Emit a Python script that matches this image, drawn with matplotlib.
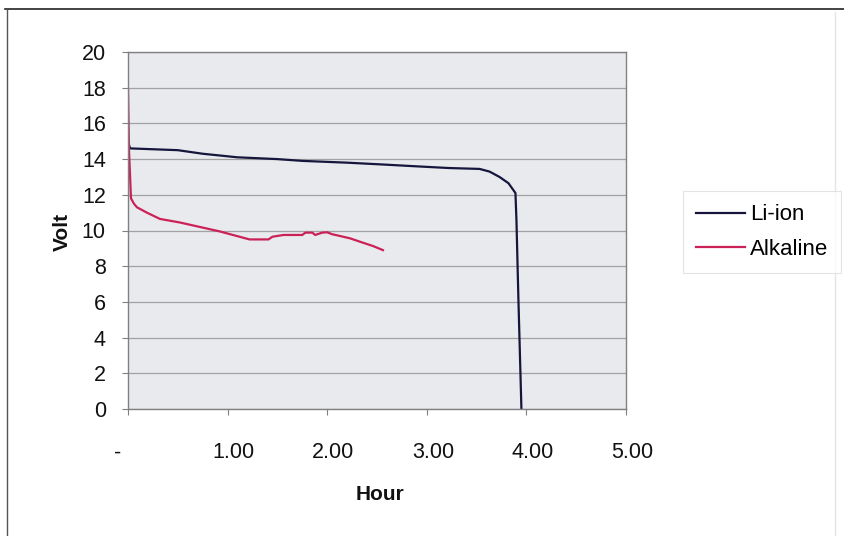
import matplotlib
matplotlib.use("Agg")
import matplotlib.pyplot as plt
import matplotlib.transforms as mtransforms
from matplotlib.lines import Line2D

plt.rcParams['font.family'] = ['Liberation Sans', 'DejaVu Sans']

# ---- data ----
liion_hours = [0.00, 0.02, 0.50, 0.75, 1.10, 1.50, 1.75, 2.20, 2.55, 2.88, 3.22, 3.53,
               3.63, 3.73, 3.82, 3.89, 3.90, 3.92, 3.95]
liion_volts = [15.0, 14.6, 14.5, 14.3, 14.1, 14.0, 13.9, 13.8, 13.7, 13.6, 13.5, 13.45,
               13.3, 13.0, 12.65, 12.1, 10.6, 6.1, 0.0]

alk_hours = [0.00, 0.01, 0.03, 0.06, 0.09, 0.19, 0.32, 0.52, 0.72, 0.92, 1.12, 1.22,
             1.41, 1.45, 1.56, 1.75, 1.78, 1.85, 1.88, 1.95, 2.00, 2.05, 2.13, 2.23,
             2.33, 2.46, 2.56]
alk_volts = [17.9, 14.5, 11.8, 11.5, 11.3, 11.0, 10.65, 10.45, 10.2, 9.95, 9.65, 9.5,
             9.5, 9.65, 9.75, 9.75, 9.88, 9.88, 9.75, 9.88, 9.9, 9.79, 9.69, 9.56,
             9.37, 9.13, 8.9]

x_ticks = [0, 1, 2, 3, 4, 5]
x_ticklabels = ["-", "1.00", "2.00", "3.00", "4.00", "5.00"]
y_ticks = list(range(0, 21, 2))

series_names = ["Li-ion", "Alkaline"]
series_colors = ["#16163c", "#cc2157"]

# ---- figure ----
fig = plt.figure(figsize=(8.44, 5.36), dpi=100)
fig.patch.set_facecolor("white")
ax = fig.add_axes([128/844, 1-409/536, (626-128)/844, (409-52)/536])
ax.set_facecolor("#e8eaee")

ax.plot(liion_hours, liion_volts, color=series_colors[0], lw=1.6, label=series_names[0])
ax.plot(alk_hours, alk_volts, color=series_colors[1], lw=1.6, label=series_names[1])

ax.set_xlim(0, 5)
ax.set_ylim(0, 20)
ax.set_yticks(y_ticks)
ax.set_xticks(x_ticks)
ax.set_xticklabels(x_ticklabels)
ax.yaxis.grid(True, color="#a2a2a2", lw=0.9)
ax.set_axisbelow(True)
for s in ax.spines.values():
    s.set_color("#808080")
    s.set_linewidth(1.0)

ax.tick_params(axis='y', length=4, color="#808080", pad=12, labelsize=15.5, labelcolor="#111111")
ax.tick_params(axis='x', length=4, color="#808080", pad=20, labelsize=15.5, labelcolor="#111111")

# offset x tick labels like Excel accounting format
for i, lab in enumerate(ax.get_xticklabels()):
    dx = -10 if i == 0 else 6
    lab.set_transform(lab.get_transform() + mtransforms.ScaledTranslation(dx/100, 0, fig.dpi_scale_trans))

fig.text(62/844, 1-232/536, "Volt", rotation=90, ha='center', va='center',
         fontsize=15, fontweight='bold', color="#111111")
fig.text(380/844, 1-494/536, "Hour", ha='center', va='center',
         fontsize=15, fontweight='bold', color="#111111")

leg = fig.legend(loc='center left', bbox_to_anchor=(683/844, 1-232/536),
                 fontsize=16, frameon=True, fancybox=False, handlelength=2.2,
                 handletextpad=0.2, labelspacing=0.6, borderpad=0.6, borderaxespad=0)
leg.get_frame().set_edgecolor("#dddddd")
leg.get_frame().set_linewidth(0.8)
for line in leg.get_lines():
    line.set_linewidth(1.6)

# scanned frame edges
fig.add_artist(Line2D([5/844, 1.0], [1-9/536, 1-9/536], transform=fig.transFigure, color="#222222", lw=1.2))
fig.add_artist(Line2D([7/844, 7/844], [1-9/536, 0.0], transform=fig.transFigure, color="#555555", lw=1.0))
fig.add_artist(Line2D([835/844, 835/844], [1-12/536, 0.0], transform=fig.transFigure, color="#e4e4e4", lw=1.0))

fig.savefig("out.png", dpi=100)
